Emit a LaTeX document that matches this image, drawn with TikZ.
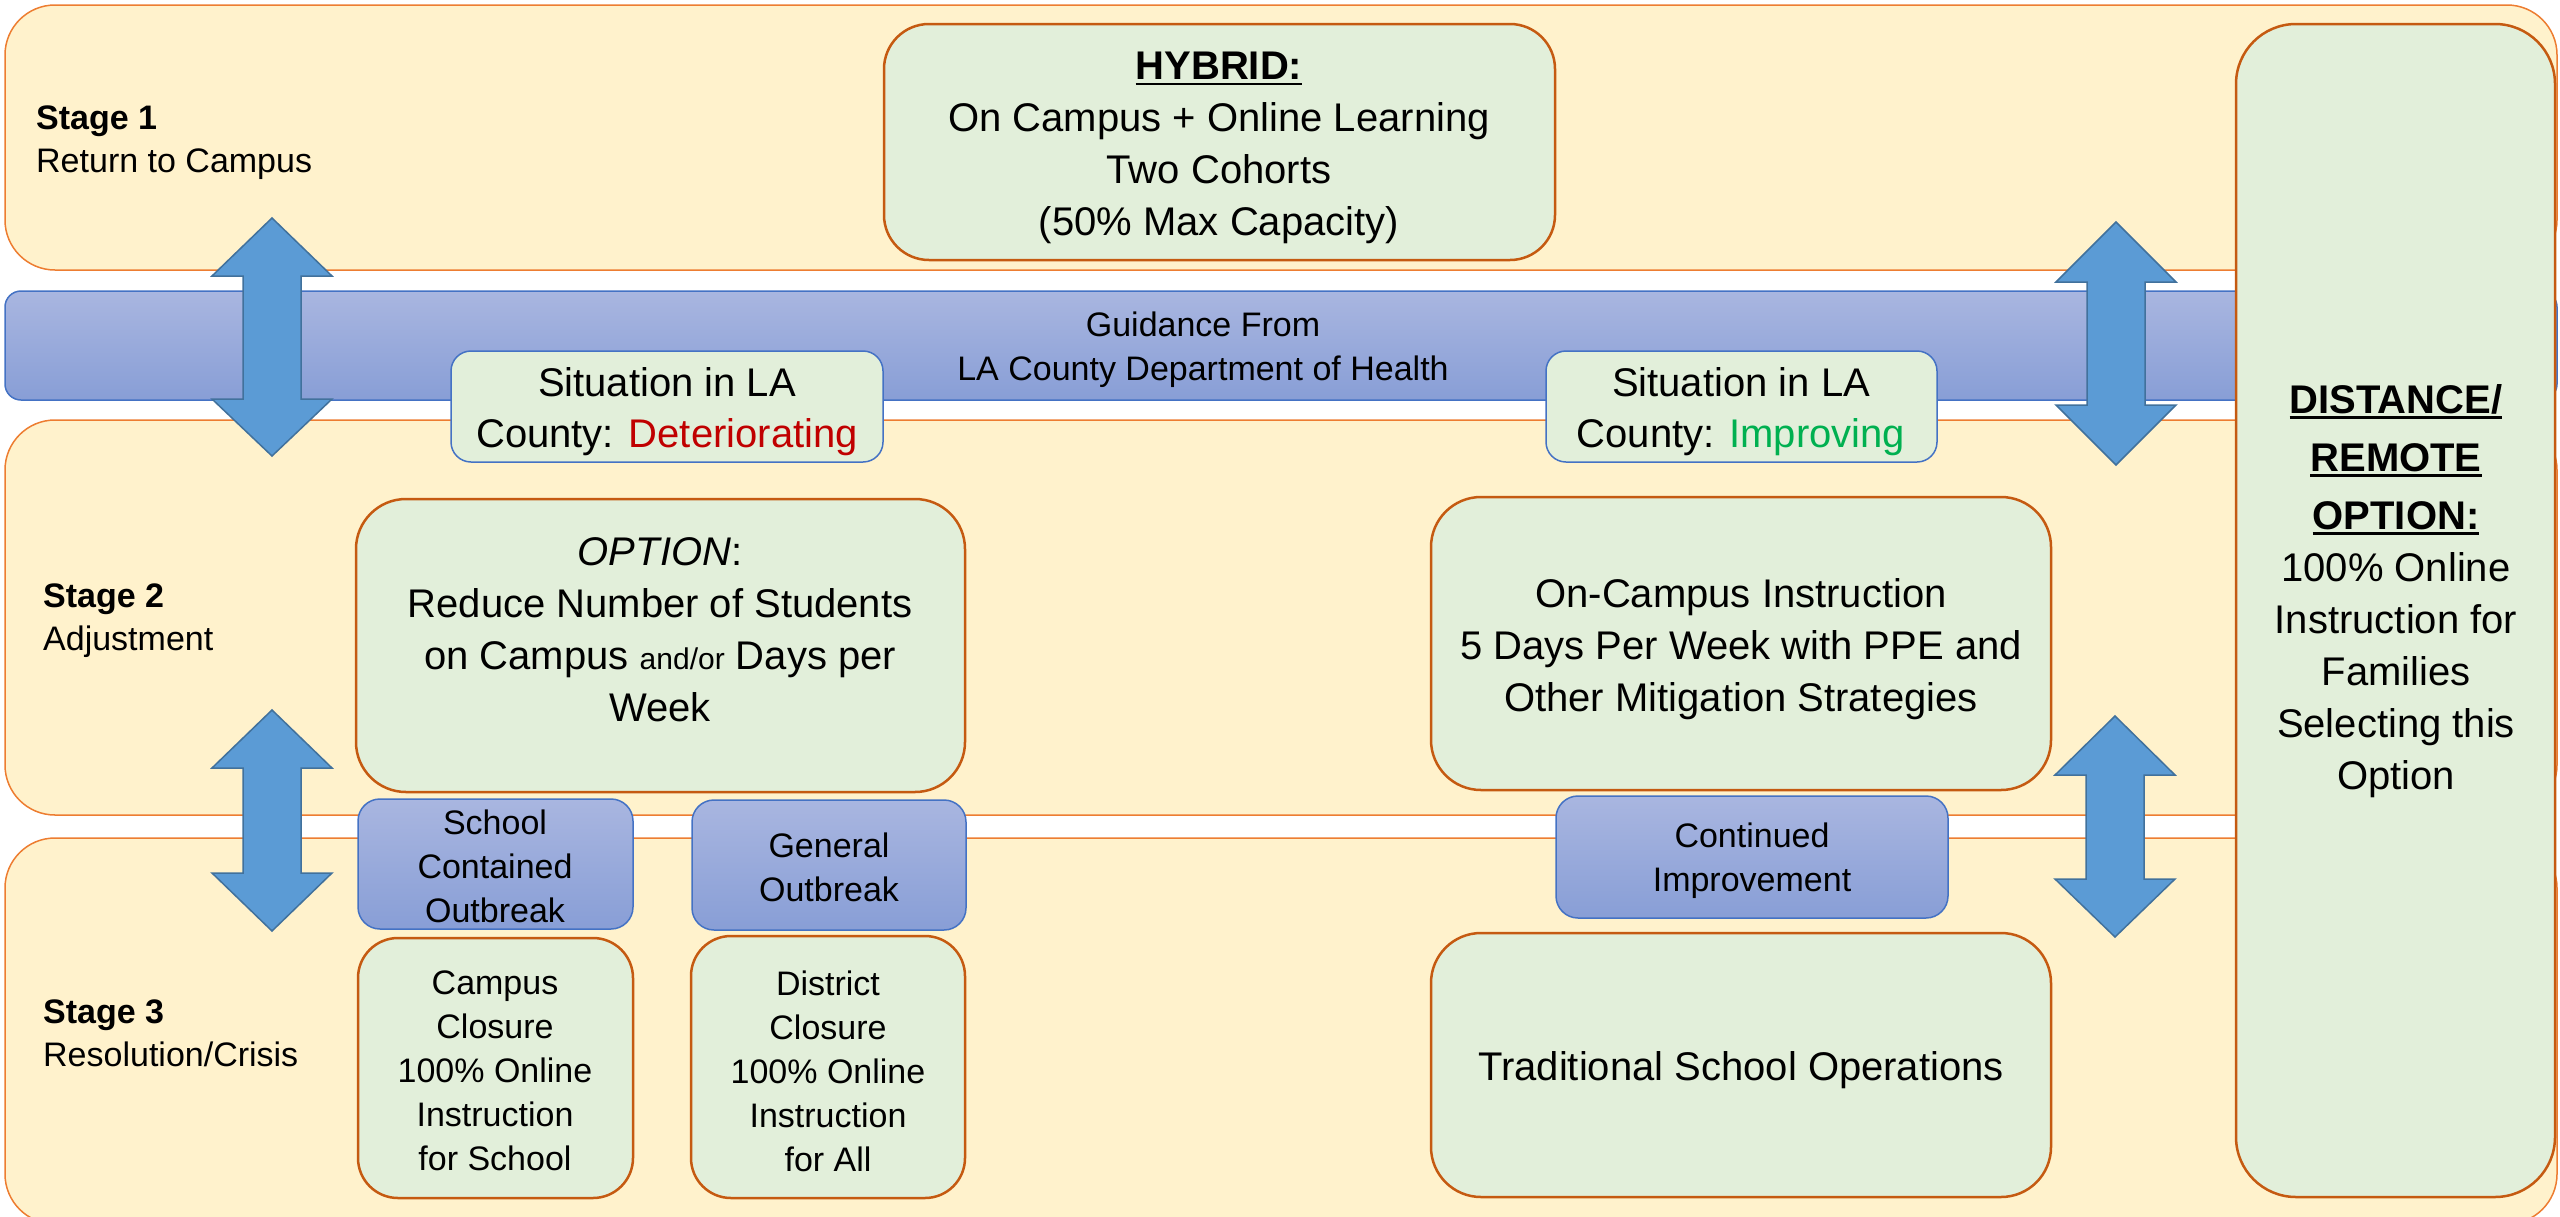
\documentclass[tikz,border=0pt]{standalone}
\usepackage{fontspec}
\setmainfont{Liberation Sans}
\usetikzlibrary{fit}
\definecolor{cream}{HTML}{FFF2CC}
\definecolor{bandline}{HTML}{ED7D31}
\definecolor{gfill}{HTML}{E2EFDA}
\definecolor{brown}{HTML}{C55A11}
\definecolor{blueline}{HTML}{4472C4}
\definecolor{btop}{RGB}{169,182,224}
\definecolor{bbot}{RGB}{136,158,214}
\definecolor{arrfill}{HTML}{5B9BD5}
\definecolor{arrline}{HTML}{41719C}
\definecolor{detred}{HTML}{C00000}
\definecolor{impgreen}{HTML}{00B050}
\newcommand\myul[1]{\leavevmode\setbox0=\hbox{#1}\rlap{\rule[-5.5pt]{\wd0}{2.5pt}}\box0}
\newcommand\DblArrow[5]{%
  \draw[arrowshape] (#1,#2) -- ({#1+60},#3) -- ({#1+29},#3) -- ({#1+29},#4) -- ({#1+60},#4)
    -- (#1,#5) -- ({#1-60},#4) -- ({#1-29},#4) -- ({#1-29},#3) -- ({#1-60},#3) -- cycle;}
\begin{document}
\begin{tikzpicture}[x=1pt,y=-1pt,
  band/.style={draw=bandline,line width=1.5pt,fill=cream,rounded corners=50pt,inner sep=0pt},
  guide/.style={draw=blueline,line width=1.5pt,top color=btop,bottom color=bbot,rounded corners=16pt,inner sep=0pt},
  gbox/.style={draw=brown,line width=2.5pt,fill=gfill,rounded corners=50pt,inner sep=0pt},
  sgbox/.style={gbox,rounded corners=40pt},
  blubox/.style={draw=blueline,line width=1.5pt,top color=btop,bottom color=bbot,rounded corners=22pt,inner sep=0pt},
  sitbox/.style={draw=blueline,line width=1.5pt,fill=gfill,rounded corners=20pt,inner sep=0pt},
  arrowshape/.style={draw=arrline,line width=1.5pt,fill=arrfill,line join=miter},
  txt/.style={font=\fontsize{40}{52}\selectfont,align=center,inner sep=0pt},
  smalltxt/.style={font=\fontsize{34}{44}\selectfont,align=center,inner sep=0pt},
  stagelbl/.style={font=\fontsize{34}{43}\selectfont,align=left,inner sep=0pt,anchor=west}]
\useasboundingbox (0,0) rectangle (2560,1216);
% stage bands
\node[band,fit={(5,5)(2557,270)}] (st1) {};
\node[band,fit={(5,420)(2557,815)}] (st2) {};
\node[band,fit={(5,838)(2557,1224)}] (st3) {};
% guidance band
\node[guide,fit={(5,291)(2557,400)}] (guide) {};
\node[smalltxt] (guide-t) at (1203,350) {Guidance From\\LA County Department of Health};
% arrows
\DblArrow{272}{218}{276}{399}{456}
\DblArrow{2116}{222}{282}{405}{465}
\DblArrow{272}{710}{768}{873}{931}
\DblArrow{2115}{716}{775}{879}{937}
% stage labels
\node[stagelbl] (l1) at (36,143) {\textbf{Stage 1}\\Return to Campus};
\node[stagelbl] (l2) at (43,621) {\textbf{Stage 2}\\Adjustment};
\node[stagelbl] (l3) at (43,1033) {\textbf{Stage 3}\\Resolution/Crisis};
% hybrid
\node[gbox,rounded corners=45pt,fit={(884,24)(1555,260)}] (hyb) {};
\node[txt] (hyb-t) at (1219,148) {\myul{\textbf{HYBRID:}}\\On Campus + Online Learning\\Two Cohorts\\(50\% Max Capacity)};
% situation boxes
\node[sitbox,fit={(451,351)(883,462)}] (sit1) {};
\node[txt,font=\fontsize{40}{51}\selectfont] (sit1-t) at (667,412) {Situation in LA\\County: \textcolor{detred}{Deteriorating}};
\node[sitbox,fit={(1546,351)(1937,462)}] (sit2) {};
\node[txt,font=\fontsize{40}{51}\selectfont] (sit2-t) at (1741,412) {Situation in LA\\County: \textcolor{impgreen}{Improving}};
% option
\node[gbox,fit={(356,499)(965,792)}] (opt) {};
\node[txt] (opt-t) at (660,630) {\textit{OPTION}:\\Reduce Number of Students\\on Campus {\fontsize{30}{30}\selectfont and/or} Days per\\Week};
% outbreaks
\node[blubox,fit={(358,799)(633,929)}] (sco) {};
\node[smalltxt] (sco-t) at (495,866) {School\\Contained\\Outbreak};
\node[blubox,fit={(692,800)(966,930)}] (gen) {};
\node[smalltxt] (gen-t) at (829,867) {General\\Outbreak};
\node[sgbox,fit={(358,938)(633,1198)}] (cc) {};
\node[smalltxt] (cc-t) at (495,1071) {Campus\\Closure\\100\% Online\\Instruction\\for School};
\node[sgbox,fit={(691,936)(965,1198)}] (dc) {};
\node[smalltxt] (dc-t) at (828,1071) {District\\Closure\\100\% Online\\Instruction\\for All};
% improving side
\node[gbox,fit={(1431,497)(2051,790)}] (onc) {};
\node[txt] (onc-t) at (1741,649) {On-Campus Instruction\\5 Days Per Week with PPE and\\Other Mitigation Strategies};
\node[blubox,fit={(1556,796)(1948,918)}] (ci) {};
\node[smalltxt] (ci-t) at (1752,861) {Continued\\Improvement};
\node[gbox,fit={(1431,933)(2051,1197)}] (trad) {};
\node[txt] (trad-t) at (1741,1070) {Traditional School Operations};
% distance
\node[gbox,rounded corners=60pt,fit={(2236,24)(2555,1197)}] (dist) {};
\node[txt] (dist-t) at (2396,591) {\myul{\textbf{DISTANCE/}}\\[6pt]\myul{\textbf{REMOTE}}\\[6pt]\myul{\textbf{OPTION:}}\\100\% Online\\Instruction for\\Families\\Selecting this\\Option};
\end{tikzpicture}
\end{document}
